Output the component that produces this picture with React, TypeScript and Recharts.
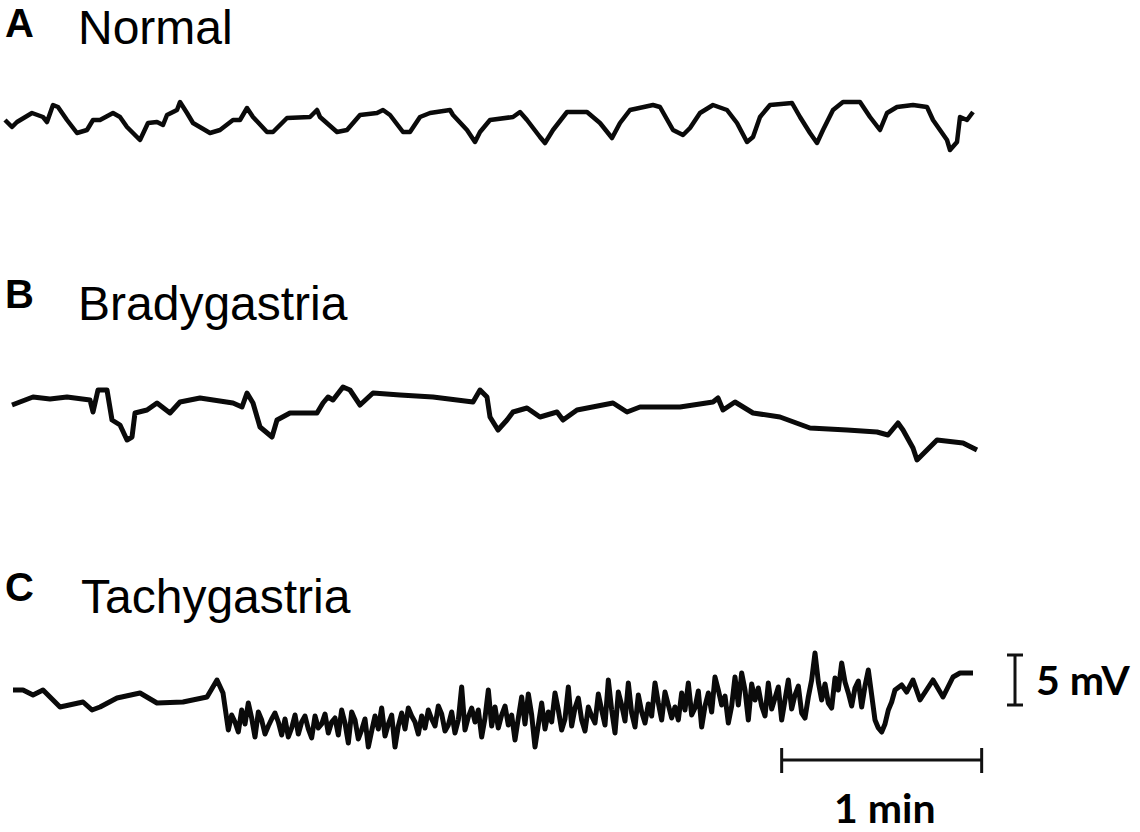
import { LineChart, Line, XAxis, YAxis, ReferenceLine } from "recharts";

// time in seconds, potential in mV (relative to the trace baseline)
const normalT = [0, 2.1, 3.6, 8.1, 11.4, 12.6, 14.4, 15.9, 18.6, 21.6, 24.6, 26.4, 28.5, 32.4, 34.5, 36.6, 40.5, 42.9, 45.6, 47.4, 48.6, 51.6, 52.5, 54.6, 56.4, 61.5, 64.5, 68.4, 70.5, 72.6, 74.4, 78.6, 80.4, 84.6, 91.5, 93.6, 94.5, 99.6, 102.6, 106.5, 111.6, 113.4, 115.5, 119.4, 121.5, 124.5, 127.5, 133.5, 134.4, 138.6, 141.0, 142.5, 145.5, 152.4, 154.5, 156.6, 160.5, 162.0, 164.4, 168.6, 174.6, 178.5, 182.1, 184.5, 187.5, 194.4, 196.5, 200.4, 203.4, 205.5, 208.5, 212.4, 216.6, 219.6, 222.6, 224.4, 226.5, 229.5, 236.1, 238.5, 241.5, 243.6, 245.4, 248.4, 251.4, 256.5, 259.5, 262.5, 264.6, 267.6, 272.4, 276.6, 278.4, 282.6, 283.5, 285.6, 286.5, 288.6, 290.4];
const normalMv = [0, -0.7, -0.2, 0.7, 0.3, -0.2, 1.5, 1.3, 0, -1.3, -1.0, 0, 0, 0.7, 0.3, -0.7, -2.0, -0.3, -0.2, -0.5, 0.5, 1.0, 1.8, 0.7, -0.3, -1.3, -1.0, 0, 0, 1.2, 0.3, -1.2, -1.2, 0.2, 0.3, 1.0, 0.3, -1.2, -1.0, 0.5, 0.7, 1.0, 0.5, -1.2, -1.2, 0.3, 0.7, 1.0, 0.5, -1.0, -2.2, -1.2, 0, 0.3, 0.8, 0, -1.7, -2.3, -1.0, 0.8, 0.8, -0.3, -1.8, -0.3, 1.0, 1.5, 1.3, -1.0, -1.5, -0.8, 0.7, 1.5, 1.0, -0.3, -2.2, -1.7, 0.3, 1.5, 1.7, 0.3, -1.3, -2.3, -1.0, 1.0, 1.8, 1.8, 0.3, -1.0, 0.7, 1.3, 1.5, 1.3, 0, -2.0, -3.0, -2.2, 0.3, 0, 0.8];

const bradyT = [2.1, 8.4, 13.5, 18.6, 25.5, 26.4, 27.9, 30.6, 32.1, 34.5, 36.6, 38.1, 39.0, 42.6, 45.6, 49.5, 52.5, 58.5, 68.4, 71.1, 72.6, 74.4, 76.5, 80.1, 81.6, 85.5, 93.6, 95.4, 96.9, 98.4, 101.4, 103.5, 106.5, 110.4, 118.5, 128.4, 140.4, 142.5, 144.6, 145.5, 147.9, 150.6, 152.4, 156.6, 160.5, 165.6, 167.4, 171.6, 182.4, 186.6, 190.5, 202.5, 212.4, 213.9, 215.4, 219.0, 224.4, 232.5, 241.5, 252.6, 261.6, 264.9, 267.9, 269.4, 272.4, 273.6, 276.6, 279.6, 287.4, 291.6];
const bradyMv = [1.5, 2.3, 2.1, 2.3, 2.0, 0.8, 3.0, 3.0, 0, -0.5, -2.0, -1.7, 0.7, 1.0, 1.7, 0.7, 1.8, 2.2, 1.7, 1.3, 2.7, 1.7, -0.7, -1.7, 0, 0.7, 0.7, 1.7, 2.3, 2.0, 3.3, 3.0, 1.5, 2.7, 2.5, 2.3, 1.8, 3.0, 2.3, 0.3, -1.0, 0, 0.8, 1.2, 0.3, 0.8, 0, 1.0, 1.7, 0.8, 1.3, 1.3, 1.8, 2.2, 1.0, 1.8, 0.7, 0.3, -0.8, -1.0, -1.2, -1.5, -0.3, -1.0, -2.8, -4.0, -3.0, -2.0, -2.3, -3.0];

// tachygastria: [time s, mV]
const tachyQuiet: [number, number][] = [
  [2.4, 1.0], [5.4, 1.0], [8.4, 0.5], [11.4, 1.0], [16.5, -0.7], [23.4, -0.2], [26.1, -1.0], [28.5, -0.7],
  [33.6, 0.2], [40.5, 0.7], [45.6, -0.3], [53.4, -0.2], [60.6, 0.3], [63.6, 2.0], [65.4, 0.7],
];
const tachyBurst: [number, number][] = [
  [67, -3.0], [68, -1.5], [69, -2.2], [70, -3.2], [71, -1.0], [72, -2.4], [73, -0.3], [74, -1.8], [75, -3.7], [76, -1.2],
  [77, -2.0], [78, -3.4], [79, -2.6], [80, -1.9], [81, -1.3], [82, -2.2], [83, -3.5], [84, -1.9], [85, -3.7], [86, -2.8],
  [87, -1.5], [88, -3.4], [89, -2.2], [90, -1.6], [91, -2.9], [92, -3.8], [93, -1.6], [94, -2.8], [95, -2.4], [96, -1.4],
  [97, -3.3], [98, -2.2], [99, -1.8], [100, -3.5], [101, -1.0], [102, -2.3], [103, -4.3], [104, -1.2], [105, -2.0], [106, -3.9],
  [107, -3.0], [108, -1.9], [109, -4.7], [110, -3.1], [111, -1.6], [112, -2.9], [113, -0.8], [114, -3.6], [115, -2.4], [116, -1.5],
  [117, -4.7], [118, -2.6], [119, -1.3], [120, -2.9], [121, -0.8], [122, -1.6], [123, -2.2], [124, -3.4], [125, -1.6], [126, -2.8],
  [127, -1.0], [128, -1.9], [129, -2.6], [130, -0.6], [131, -1.4], [132, -3.1], [133, -2.5], [134, -1.2], [135, -3.3], [136, -2.0],
  [137, 1.3], [138, -3.0], [139, -1.7], [140, -0.8], [141, -2.2], [142, -1.0], [143, -3.7], [144, -1.8], [145, 1.0], [146, -2.6],
  [147, -0.7], [148, -2.8], [149, -1.5], [150, -0.6], [151, -2.5], [152, -1.5], [153, -4.0], [154, -1.8], [155, 0.3], [156, -2.4],
  [157, 0.6], [158, -1.5], [159, -4.7], [160, -2.5], [161, -0.3], [162, -2.9], [163, -1.2], [164, -2.2], [165, 0.7], [166, -1.0],
  [167, -3.0], [168, -1.9], [169, 1.3], [170, -2.6], [171, -0.8], [172, 0.2], [173, -2.0], [174, -3.1], [175, -0.7], [176, -1.6],
  [177, -2.3], [178, 0.6], [179, -1.0], [180, -2.5], [181, 2.0], [182, -1.0], [183, -3.3], [184, 0.8], [185, -0.5], [186, -2.1],
  [187, 1.7], [188, -1.3], [189, -2.7], [190, 0.5], [191, -1.2], [192, -2.3], [193, -0.4], [194, -1.6], [195, 1.7], [196, -0.3],
  [197, -2.0], [198, 0.8], [199, -0.5], [200, -1.8], [201, -0.7], [202, -2.0], [203, 0.7], [204, -1.0], [205, 1.7], [206, -1.5],
  [207, -0.8], [208, 0.9], [209, -2.7], [210, -0.6], [211, 0.7], [212, -1.2], [213, 2.3], [214, 1.0], [215, -0.5], [216, 0.4],
  [217, -2.3], [218, -0.6], [219, 2.3], [220, -0.5], [221, 2.7], [222, 1.0], [223, -2.0], [224, 1.6], [225, 0], [226, 1.2],
  [227, -0.6], [228, -1.6], [229, 1.7], [230, -0.9], [231, 0.2], [232, 1.3], [233, -2.0], [234, 0], [235, 2.0], [236, -0.9],
  [237, 0.5], [238, 1.4], [239, -1.3], [240, -1.8], [241, 0.3], [242, 2.0], [243, 4.7], [244, 1.8], [245, 0], [246, 1.6],
  [247, -0.3], [248, -0.8], [249, 2.2], [250, 1.0], [251, 3.7], [252, 1.8], [253, 0.7], [254, -0.6], [255, 1.2], [256, 1.9],
  [257, -0.7], [258, 1.4], [259, 3.0], [260, 0.5], [261, -2.0], [262, -2.8], [263, -3.2], [264, -2.4], [265, -1.0], [266, -0.2],
  [267, 1.0],
];
const tachyTail: [number, number][] = [
  [269, 1.5], [270.5, 0.8], [272.4, 2.0], [274.5, 0], [278.4, 2.0], [281.4, 0.3], [284.4, 2.3], [286.5, 2.7], [290.4, 2.7],
];

// scale bars
const minuteBar = [233, 293];
const minuteBarMv = -6.0;
const voltBarT = 303;
const voltBarMv = [4.5, -0.5];

const toRows = (t: number[], mv: number[]) => t.map((x, i) => ({ t: x, mv: mv[i] }));
const pairRows = (pts: [number, number][]) => pts.map(([t, mv]) => ({ t, mv }));

const panels = [
  { letter: "A", title: "Normal", rows: toRows(normalT, normalMv), letterY: 36.5, titleY: 44, titleX: 78 },
  { letter: "B", title: "Bradygastria", rows: toRows(bradyT, bradyMv), letterY: 308, titleY: 320, titleX: 78 },
  { letter: "C", title: "Tachygastria", rows: pairRows([...tachyQuiet, ...tachyBurst, ...tachyTail]), letterY: 601, titleY: 613, titleX: 81 },
];

function Trace({ rows, top, height, range, width, bars }: { rows: { t: number; mv: number }[]; top: number; height: number; range: number; width: number; bars?: boolean }) {
  return (
    <div style={{ position: "absolute", left: 0, top }}>
      <LineChart width={1140} height={height} data={rows} margin={{ top: 0, right: 0, left: 5, bottom: 0 }}>
        <XAxis type="number" dataKey="t" domain={[0, 340.5]} hide />
        <YAxis type="number" domain={[-range, range]} hide />
        <Line
          type="linear"
          dataKey="mv"
          stroke="#0a0a0a"
          strokeWidth={width}
          strokeLinejoin="round"
          dot={false}
          isAnimationActive={false}
        />
        {bars && (
          <>
            <ReferenceLine segment={[{ x: minuteBar[0], y: minuteBarMv }, { x: minuteBar[1], y: minuteBarMv }]} stroke="#111" strokeWidth={3} ifOverflow="visible" />
            <ReferenceLine segment={[{ x: minuteBar[0], y: minuteBarMv + 1.2 }, { x: minuteBar[0], y: minuteBarMv - 1.3 }]} stroke="#111" strokeWidth={3} ifOverflow="visible" />
            <ReferenceLine segment={[{ x: minuteBar[1], y: minuteBarMv + 1.2 }, { x: minuteBar[1], y: minuteBarMv - 1.3 }]} stroke="#111" strokeWidth={3} ifOverflow="visible" />
            <ReferenceLine segment={[{ x: voltBarT, y: voltBarMv[0] }, { x: voltBarT, y: voltBarMv[1] }]} stroke="#111" strokeWidth={3} ifOverflow="visible" />
            <ReferenceLine segment={[{ x: voltBarT - 2.4, y: voltBarMv[0] }, { x: voltBarT + 2.4, y: voltBarMv[0] }]} stroke="#111" strokeWidth={3} ifOverflow="visible" />
            <ReferenceLine segment={[{ x: voltBarT - 2.4, y: voltBarMv[1] }, { x: voltBarT + 2.4, y: voltBarMv[1] }]} stroke="#111" strokeWidth={3} ifOverflow="visible" />
          </>
        )}
      </LineChart>
    </div>
  );
}

const arial = "Liberation Sans, Arial, sans-serif";
const lato = "Lato, sans-serif";

export default function App() {
  return (
    <div style={{ position: "relative", width: 1140, height: 832, background: "#fff", overflow: "hidden" }}>
      <style>{"body{margin:0}"}</style>
      <Trace rows={panels[0].rows} top={60} height={120} range={6} width={4.5} />
      <Trace rows={panels[1].rows} top={360} height={120} range={6} width={5} />
      <Trace rows={panels[2].rows} top={620} height={160} range={8} width={5} bars />
      <svg width={1140} height={832} style={{ position: "absolute", left: 0, top: 0, pointerEvents: "none" }}>
        {panels.map((p) => (
          <g key={p.letter}>
            <text x={5} y={p.letterY} fontFamily={arial} fontWeight="bold" fontSize={40} fill="#000">
              {p.letter}
            </text>
            <text x={p.titleX} y={p.titleY} fontFamily={arial} fontSize={48} fill="#000">
              {p.title}
            </text>
          </g>
        ))}
        <text x={1036} y={695} fontFamily={lato} fontWeight="bold" fontSize={41} fill="#000">
          5 mV
        </text>
        <text x={834} y={823} fontFamily={lato} fontWeight="bold" fontSize={41} fill="#000">
          1 min
        </text>
      </svg>
    </div>
  );
}
